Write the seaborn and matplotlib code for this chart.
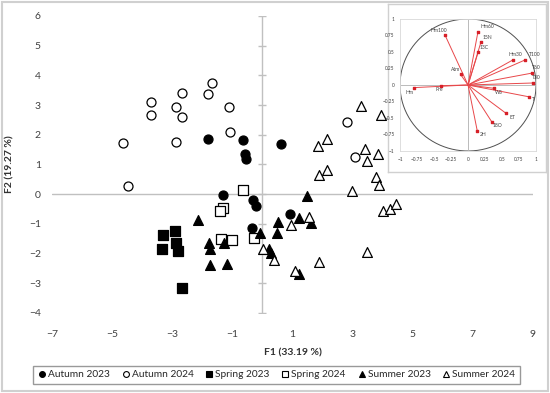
import seaborn as sns
import matplotlib.pyplot as plt
import matplotlib.patches as mpatches
from matplotlib.lines import Line2D
import pandas as pd
import numpy as np

sns.set_style("white")
plt.rcParams["font.family"] = ["Lato", "DejaVu Sans"]

# ---- Observations (F1, F2) ----
autumn23_x = [-1.80, -0.66, -0.57, -0.53, -1.32, -0.32, -0.22, -0.36, 0.63, 0.92]
autumn23_y = [1.85, 1.84, 1.36, 1.17, -0.02, -0.20, -0.39, -1.13, 1.69, -0.68]
autumn24_x = [-4.65, -4.48, -3.70, -3.72, -2.89, -2.68, -2.67, -2.86, -1.82, -1.68, -1.12, -1.07, 2.80, 3.07]
autumn24_y = [1.74, 0.27, 3.11, 2.65, 2.94, 3.42, 2.60, 1.76, 3.39, 3.74, 2.92, 2.09, 2.42, 1.25]
spring23_x = [-3.31, -3.35, -2.90, -2.87, -2.81, -2.67]
spring23_y = [-1.39, -1.83, -1.25, -1.66, -1.91, -3.15]
spring24_x = [-0.63, -1.32, -1.42, -1.38, -1.01, -0.27]
spring24_y = [0.14, -0.48, -0.58, -1.50, -1.53, -1.46]
summer23_x = [-2.14, -1.78, -1.73, -1.29, -1.73, -1.17, -0.08, 0.51, 0.48, 0.21, 0.28, 1.48, 1.23, 1.62, 1.23]
summer23_y = [-0.88, -1.66, -1.86, -1.66, -2.37, -2.36, -1.32, -0.93, -1.32, -1.85, -1.97, -0.07, -0.81, -0.97, -2.70]
summer24_x = [1.54, 0.95, 0.03, 0.39, 1.10, 1.89, 3.27, 3.95, 1.85, 2.15, 3.40, 3.83, 3.47,
              1.87, 2.15, 3.78, 3.89, 2.97, 4.00, 4.24, 4.44, 3.47]
summer24_y = [-0.76, -1.04, -1.85, -2.20, -2.58, -2.28, 2.96, 2.66, 1.63, 1.85, 1.53, 1.37, 1.11,
              0.65, 0.83, 0.57, 0.31, 0.12, -0.55, -0.51, -0.33, -1.96]

groups = ["Autumn 2023", "Autumn 2024", "Spring 2023", "Spring 2024", "Summer 2023", "Summer 2024"]
xs = [autumn23_x, autumn24_x, spring23_x, spring24_x, summer23_x, summer24_x]
ys = [autumn23_y, autumn24_y, spring23_y, spring24_y, summer23_y, summer24_y]
markers = ["o", "o", "s", "s", "^", "^"]
fills = ["black", "white", "black", "white", "black", "white"]

# ---- Correlation circle (variable loadings) ----
var_names = ["Hm100", "Hm60", "15N", "13C", "Hm30", "T100", "T60", "T30", "T",
             "WS", "ET", "18O", "2H", "Atm", "Hm", "Pre"]
var_f1 = [-0.34, 0.145, 0.19, 0.15, 0.66, 0.84, 0.94, 0.95, 0.90, 0.38, 0.56, 0.35, 0.135, -0.11, -0.80, -0.39]
var_f2 = [0.76, 0.80, 0.65, 0.50, 0.38, 0.38, 0.18, 0.03, -0.18, -0.05, -0.43, -0.56, -0.69, 0.16, -0.04, -0.01]
lab_x = [-0.43, 0.29, 0.29, 0.24, 0.70, 0.98, 1.01, 1.01, 0.96, 0.46, 0.65, 0.43, 0.22, -0.18, -0.86, -0.43]
lab_y = [0.83, 0.88, 0.72, 0.57, 0.46, 0.46, 0.26, 0.11, -0.22, -0.11, -0.49, -0.62, -0.75, 0.24, -0.11, -0.07]

fig = plt.figure(figsize=(5.5, 3.93), dpi=100)
fig.patches.append(mpatches.Rectangle((0.004, 0.004), 0.992, 0.992, transform=fig.transFigure,
                                      fill=False, edgecolor="#d0d0d0", linewidth=1.5))

ax = fig.add_axes([0.0945, 0.2036, 0.8745, 0.7557])
for g, x, y, m, fc in zip(groups, xs, ys, markers, fills):
    df = pd.DataFrame({"F1": x, "F2": y})
    sns.scatterplot(data=df, x="F1", y="F2", ax=ax, marker=m, s=42 if m != "^" else 50,
                    facecolor=fc, edgecolor="black", linewidth=0.9, zorder=3, legend=False)

ax.set_xlim(-7, 9)
ax.set_ylim(-4, 6)
ax.set_xticks(np.arange(-7, 10, 2))
ax.set_yticks(np.arange(-4, 7, 1))
ax.set_xticklabels([str(v).replace("-", "\u2212") for v in range(-7, 10, 2)])
ax.set_yticklabels([str(v).replace("-", "\u2212") for v in range(-4, 7, 1)])
for s in ax.spines.values():
    s.set_visible(False)
ax.tick_params(length=0, labelsize=7.5, colors="#404040")
ax.tick_params(axis="x", pad=12)
ax.tick_params(axis="y", pad=8)
ax.axhline(0, color="#c0c0c0", linewidth=1, zorder=1)
ax.axvline(0, color="#c0c0c0", linewidth=1, zorder=1)
ax.plot(np.zeros(11), np.arange(-4, 7, 1), linestyle="none", marker="_", markersize=6,
        color="#c0c0c0", markeredgewidth=1, zorder=1)
ax.set_xlabel("F1 (33.19 %)", fontsize=7.5, fontweight="bold", color="#303030", labelpad=7)
ax.set_ylabel("F2 (19.27 %)", fontsize=7.5, fontweight="bold", color="#303030", labelpad=10)

handles = [Line2D([], [], linestyle="none", marker=m, markersize=4.2, markerfacecolor=fc,
                  markeredgecolor="black", markeredgewidth=0.8) for m, fc in zip(markers, fills)]
fig.legend(handles, groups, loc="center", bbox_to_anchor=(0.503, 0.046), ncol=6, fontsize=7.3,
           frameon=True, fancybox=False, edgecolor="#808080", handlelength=0.8,
           handletextpad=0.2, columnspacing=1.15, borderpad=0.45)

# ---- Inset: correlation circle ----
frame = fig.add_axes([0.7055, 0.5623, 0.2873, 0.4275])
frame.set_xticks([])
frame.set_yticks([])
frame.set_facecolor("white")
for s in frame.spines.values():
    s.set_color("#d0d0d0")
    s.set_linewidth(1)

iax = fig.add_axes([0.7273, 0.6158, 0.2473, 0.3359])
iax.set_xlim(-1, 1)
iax.set_ylim(-1, 1)
for s in iax.spines.values():
    s.set_color("#d8d8d8")
    s.set_linewidth(0.6)
t = np.linspace(0, 2 * np.pi, 300)
iax.plot(np.cos(t), np.sin(t), color="#505050", linewidth=0.7)
iax.axhline(0, color="#b0b0b0", linewidth=0.6)
iax.axvline(0, color="#b0b0b0", linewidth=0.6)
for vx, vy in zip(var_f1, var_f2):
    iax.plot([0, vx], [0, vy], color="#e8474a", linewidth=0.7)
iax.scatter(var_f1, var_f2, marker="s", s=3, color="#d62028", zorder=3)
for name, lx, ly in zip(var_names, lab_x, lab_y):
    iax.text(lx, ly, name, fontsize=3.6, ha="center", va="center", color="#404040")
ticks = [-1, -0.75, -0.5, -0.25, 0, 0.25, 0.5, 0.75, 1]
iax.set_xticks(ticks)
iax.set_yticks(ticks)
iax.set_xticklabels([str(v).replace("-", "\u2212") for v in ticks])
iax.set_yticklabels([str(v).replace("-", "\u2212") for v in ticks])
iax.tick_params(length=0, labelsize=3.4, colors="#404040", pad=4)

plt.savefig("out.png", dpi=100)
plt.close()
